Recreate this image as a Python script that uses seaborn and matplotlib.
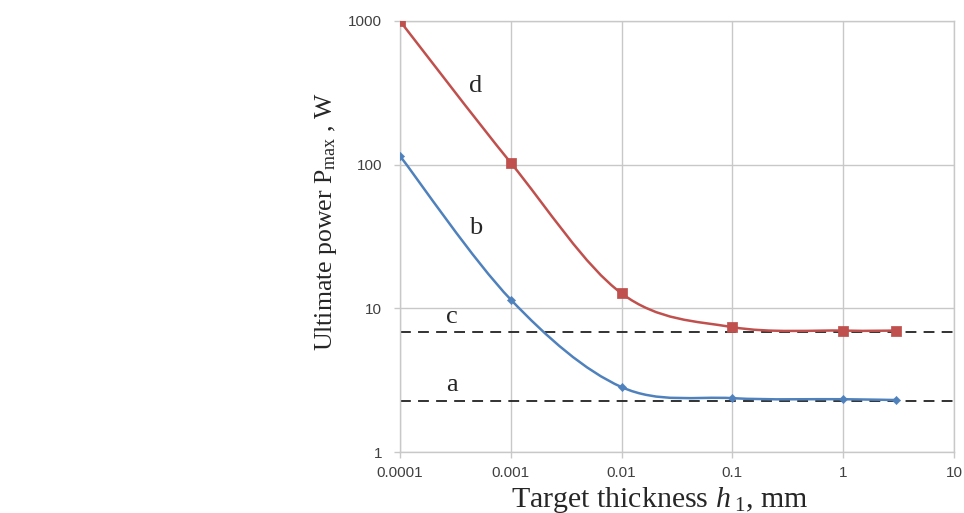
import numpy as np
import pandas as pd
import matplotlib
matplotlib.use("Agg")
import matplotlib.pyplot as plt
from matplotlib.path import Path
from matplotlib.patches import PathPatch
import seaborn as sns

# values
thickness = [0.0001, 0.001, 0.01, 0.1, 1, 3]
power_d = [1000, 103, 12.7, 7.4, 7.0, 7.0]
power_b = [115, 11.5, 2.83, 2.37, 2.33, 2.3]
level_c = 6.8
level_a = 2.26
x_ticks = [0.0001, 0.001, 0.01, 0.1, 1, 10]
x_tick_labels = ["0.0001", "0.001", "0.01", "0.1", "1", "10"]
y_ticks = [1, 10, 100, 1000]
y_tick_labels = ["1", "10", "100", "1000"]

RED = "#C0504D"
BLUE = "#4F81BD"


def smooth_path(xs, ys):
    # excel-like smoothed line: bezier control points in log-log space
    p = np.column_stack([np.log10(xs), np.log10(ys)])
    n = len(p)
    verts = [p[0]]
    codes = [Path.MOVETO]
    for i in range(n - 1):
        prev = p[i - 1] if i > 0 else p[i]
        nxt = p[i + 2] if i + 2 < n else p[i + 1]
        c1 = p[i] + (p[i + 1] - prev) / 6
        c2 = p[i + 1] - (nxt - p[i]) / 6
        verts += [c1, c2, p[i + 1]]
        codes += [Path.CURVE4] * 3
    return Path(10 ** np.array(verts), codes)


sns.set_style("white")
plt.rcParams["font.family"] = ["Liberation Sans", "DejaVu Sans"]
plt.rcParams["mathtext.fontset"] = "custom"
plt.rcParams["mathtext.rm"] = "Liberation Serif"
plt.rcParams["mathtext.it"] = "Liberation Serif:italic"

df = pd.DataFrame({"h": thickness, "d": power_d, "b": power_b})

fig = plt.figure(figsize=(9.64, 5.13), dpi=100)
ax = fig.add_axes([400 / 964, 1 - 452 / 513, 554 / 964, 431 / 513])
ax.set_xscale("log")
ax.set_yscale("log")
ax.set_xlim(1e-4, 10)
ax.set_ylim(1, 1000)

ax.grid(True, which="major", color="#C8C8C8", lw=1)
ax.set_axisbelow(True)
for s in ax.spines.values():
    s.set_color("#C8C8C8")
    s.set_linewidth(1)

ax.axhline(level_c, color="#222222", lw=1.3, ls=(0, (6, 4)), zorder=2)
ax.axhline(level_a, color="#222222", lw=1.3, ls=(0, (6, 4)), zorder=2)

ax.add_patch(PathPatch(smooth_path(df["h"], df["d"]), fill=False, edgecolor=RED, lw=1.8, zorder=3))
ax.add_patch(PathPatch(smooth_path(df["h"], df["b"]), fill=False, edgecolor=BLUE, lw=1.8, zorder=3))

sns.scatterplot(data=df, x="h", y="d", ax=ax, marker="s", s=42, color=RED,
                edgecolor=RED, zorder=4, legend=False)
sns.scatterplot(data=df, x="h", y="b", ax=ax, marker="D", s=18, color=BLUE,
                edgecolor=BLUE, zorder=4, legend=False)

ax.set_xticks(x_ticks)
ax.set_xticklabels(x_tick_labels)
ax.set_yticks(y_ticks)
ax.set_yticklabels(y_tick_labels)
ax.minorticks_off()
ax.tick_params(axis="both", which="major", labelsize=11, labelcolor="#404040",
               color="#C8C8C8", length=4, width=1, direction="out",
               left=True, bottom=True)
ax.tick_params(axis="x", pad=6)
ax.tick_params(axis="y", pad=9)

serif = ["Liberation Serif", "DejaVu Serif"]
ax.text(4.85e-4, 354, "d", family=serif, fontsize=19, ha="center", va="center")
ax.text(4.85e-4, 36, "b", family=serif, fontsize=19, ha="center", va="center")
ax.text(2.95e-4, 8.66, "c", family=serif, fontsize=19, ha="center", va="center")
ax.text(2.92e-4, 2.92, "a", family=serif, fontsize=19, ha="center", va="center")

ax.set_xlabel(r"Target thickness $h_{\;1}$, mm", family=serif, fontsize=21.5)
ax.set_ylabel(r"Ultimate power P$_{\mathrm{max}}$ , W", family=serif, fontsize=18.5)
ax.xaxis.set_label_coords(0.469, -0.077)
ax.yaxis.set_label_coords(-0.11, 0.534)

fig.savefig("out.png", dpi=100)
